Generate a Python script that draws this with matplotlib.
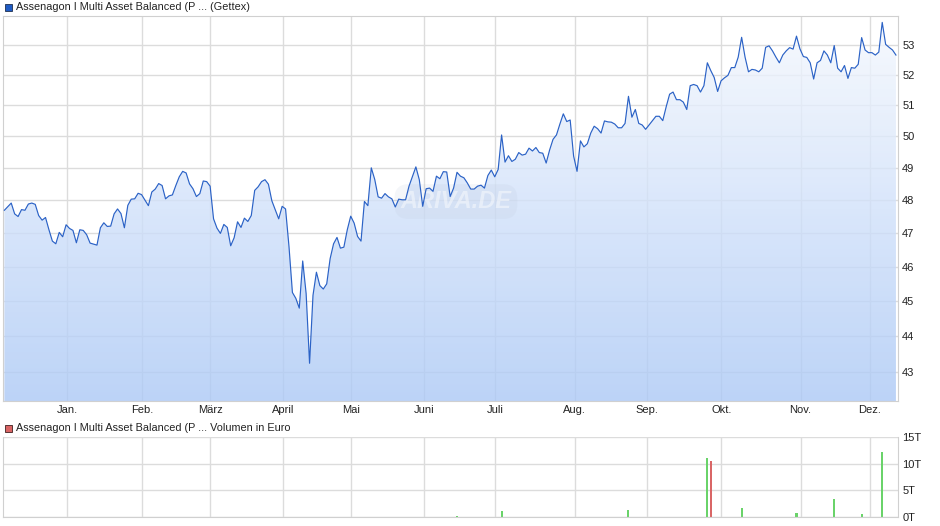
import numpy as np
import matplotlib
matplotlib.use("Agg")
import matplotlib.pyplot as plt
from matplotlib.colors import LinearSegmentedColormap
from matplotlib.patches import Rectangle
from matplotlib.ticker import NullLocator, FixedLocator, FixedFormatter

plt.rcParams['font.family'] = ['Liberation Sans', 'DejaVu Sans']

# daily closing prices (trading-day index 0..260)
price = [47.69, 47.80, 47.91, 47.58, 47.50, 47.71, 47.69, 47.88, 47.91, 47.87,
         47.53, 47.39, 47.47, 47.10, 46.76, 46.68, 47.02, 46.89, 47.25, 47.14,
         47.08, 46.71, 47.10, 47.08, 46.95, 46.70, 46.67, 46.64, 47.16, 47.31,
         47.20, 47.21, 47.58, 47.73, 47.59, 47.16, 47.84, 48.03, 48.04, 48.21,
         48.17, 48.00, 47.83, 48.25, 48.34, 48.51, 48.45, 48.04, 48.13, 48.16,
         48.45, 48.72, 48.89, 48.84, 48.50, 48.35, 48.11, 48.20, 48.59, 48.57,
         48.43, 47.43, 47.15, 46.99, 47.26, 47.17, 46.62, 46.86, 47.34, 47.17,
         47.45, 47.35, 47.53, 48.30, 48.41, 48.57, 48.63, 48.49, 47.98, 47.70,
         47.43, 47.81, 47.73, 46.60, 45.25, 45.08, 44.80, 46.17, 45.22, 43.25,
         45.17, 45.84, 45.45, 45.35, 45.50, 46.24, 46.68, 46.87, 46.55, 46.58,
         47.10, 47.51, 47.30, 46.90, 46.76, 47.96, 47.83, 49.00, 48.64, 48.10,
         48.06, 48.20, 48.10, 48.04, 47.79, 48.03, 48.01, 48.01, 48.43, 48.73,
         49.03, 48.63, 47.81, 48.35, 48.37, 48.27, 48.74, 48.66, 48.88, 48.87,
         48.11, 48.37, 48.86, 48.74, 48.69, 48.53, 48.34, 48.34, 48.43, 48.46,
         48.37, 48.76, 48.93, 48.72, 48.95, 50.04, 49.18, 49.38, 49.20, 49.27,
         49.48, 49.40, 49.43, 49.62, 49.53, 49.64, 49.48, 49.46, 49.15, 49.56,
         49.90, 50.04, 50.39, 50.72, 50.47, 50.52, 49.37, 48.89, 49.85, 49.66,
         49.76, 50.10, 50.32, 50.24, 50.10, 50.49, 50.46, 50.45, 50.39, 50.27,
         50.27, 50.41, 51.29, 50.61, 50.86, 50.41, 50.36, 50.22, 50.36, 50.50,
         50.64, 50.64, 50.50, 50.95, 51.36, 51.43, 51.18, 51.18, 51.10, 50.86,
         51.64, 51.68, 51.64, 51.43, 51.64, 52.40, 52.14, 51.91, 51.45, 51.80,
         51.90, 51.98, 52.24, 52.24, 52.59, 53.26, 52.59, 52.10, 52.18, 52.16,
         52.10, 52.22, 52.92, 52.97, 52.80, 52.59, 52.40, 52.66, 52.80, 52.91,
         52.86, 53.30, 52.87, 52.61, 52.58, 52.40, 51.86, 52.40, 52.48, 52.80,
         52.66, 52.40, 52.98, 52.22, 52.10, 52.31, 51.88, 52.24, 52.22, 52.35,
         53.25, 52.83, 52.74, 52.74, 52.66, 52.76, 53.77, 53.02, 52.92, 52.83,
         52.66]

# month starts (trading-day position) and labels
month_pos = [18.3, 40.1, 60.1, 81.2, 101.0, 122.3, 143.2, 166.3, 187.3, 209.1, 232.2, 252.3]
month_lbl = ['Jan.', 'Feb.', 'März', 'April', 'Mai', 'Juni', 'Juli', 'Aug.', 'Sep.', 'Okt.', 'Nov.', 'Dez.']

price_ticks = [43, 44, 45, 46, 47, 48, 49, 50, 51, 52, 53]

# volume in thousand euro (T)
vol_idx = [132, 145, 182, 205, 206, 215, 231, 242, 250, 256]
vol_val = [0.1, 1.1, 1.25, 11.0, 10.5, 1.65, 0.7, 3.35, 0.5, 12.2]
vol_up = [True, True, True, True, False, True, True, True, True, True]
vol_ticks = [0, 5, 10, 15]
vol_lbl = ['0T', '5T', '10T', '15T']

W, H = 940, 526
fig = plt.figure(figsize=(W / 100, H / 100), dpi=100)

def fbox(l, t, r, b):
    return [l / W, 1 - b / H, (r - l) / W, (b - t) / H]

grid_c = '#dcdcdc'
txt_c = '#222222'
x = np.arange(len(price))
xlim = (-0.4, 260.6)
ylo, yhi = 42.22, 53.99

ax = fig.add_axes(fbox(3, 16, 898, 401))
ax.set_yscale('log')
ax.set_xlim(*xlim)
ax.set_ylim(ylo, yhi)
for v in price_ticks:
    ax.axhline(v, color=grid_c, lw=1, zorder=0)
for p in month_pos:
    ax.axvline(p, color=grid_c, lw=1, zorder=0)

poly = ax.fill_between(x, price, ylo, color='none', lw=0)
cmap = LinearSegmentedColormap.from_list('g', ['#acc9f6', '#f6f9fe'])
grad = np.linspace(0, 1, 256).reshape(-1, 1)
im = ax.imshow(grad, extent=[0, 1, 0, 1], transform=ax.transAxes, origin='lower',
               aspect='auto', cmap=cmap, alpha=0.8, zorder=1)
im.set_clip_path(poly.get_paths()[0], transform=ax.transData)
ax.plot(x, price, color='#2b62c6', lw=0.85, zorder=3)

ax.yaxis.tick_right()
ax.yaxis.set_minor_locator(NullLocator())
ax.yaxis.set_major_locator(FixedLocator(price_ticks))
ax.yaxis.set_major_formatter(FixedFormatter([str(v) for v in price_ticks]))
ax.set_xticks(month_pos)
ax.set_xticklabels(month_lbl)
ax.tick_params(length=0, labelsize=8, colors=txt_c)
ax.tick_params(axis='y', pad=3)
ax.tick_params(axis='x', pad=3)
for s in ax.spines.values():
    s.set_color('#d0d0d0')

# watermark
ax.text(0.506, 0.518, 'ARIVA.DE', transform=ax.transAxes, ha='center', va='center',
        fontsize=17, fontweight='bold', style='italic', color='white', alpha=0.45,
        zorder=2,
        bbox=dict(boxstyle='round,pad=0.25,rounding_size=0.6', fc='#b8c4d8', ec='none', alpha=0.15))

# volume panel
axv = fig.add_axes(fbox(3, 437, 898, 516.7))
axv.set_xlim(*xlim)
axv.set_ylim(0, 15)
for v in vol_ticks:
    axv.axhline(v, color=grid_c, lw=1, zorder=0)
for p in month_pos:
    axv.axvline(p, color=grid_c, lw=1, zorder=0)
cols = ['#6ad36a' if u else '#d96666' for u in vol_up]
axv.bar(vol_idx, vol_val, width=0.6, color=cols, zorder=2)
axv.yaxis.tick_right()
axv.set_yticks(vol_ticks)
axv.set_yticklabels(vol_lbl)
axv.set_xticks([])
axv.tick_params(length=0, labelsize=8, colors=txt_c, pad=3)
for s in axv.spines.values():
    s.set_color('#d0d0d0')
axv.spines['top'].set_visible(False)

# legend-like titles
fig.patches.append(Rectangle((5 / W, 1 - 11 / H), 7 / W, 7 / H, transform=fig.transFigure,
                             fc='#1f5bc4', ec='#203050', lw=0.6))
fig.text(16 / W, 1 - 7 / H, 'Assenagon I Multi Asset Balanced (P ... (Gettex)',
         fontsize=7.8, color=txt_c, va='center', ha='left')
fig.patches.append(Rectangle((5 / W, 1 - 431.5 / H), 7 / W, 7 / H, transform=fig.transFigure,
                             fc='#d96464', ec='#402020', lw=0.6))
fig.text(16 / W, 1 - 428 / H, 'Assenagon I Multi Asset Balanced (P ... Volumen in Euro',
         fontsize=7.8, color=txt_c, va='center', ha='left')

fig.savefig('out.png', dpi=100)
